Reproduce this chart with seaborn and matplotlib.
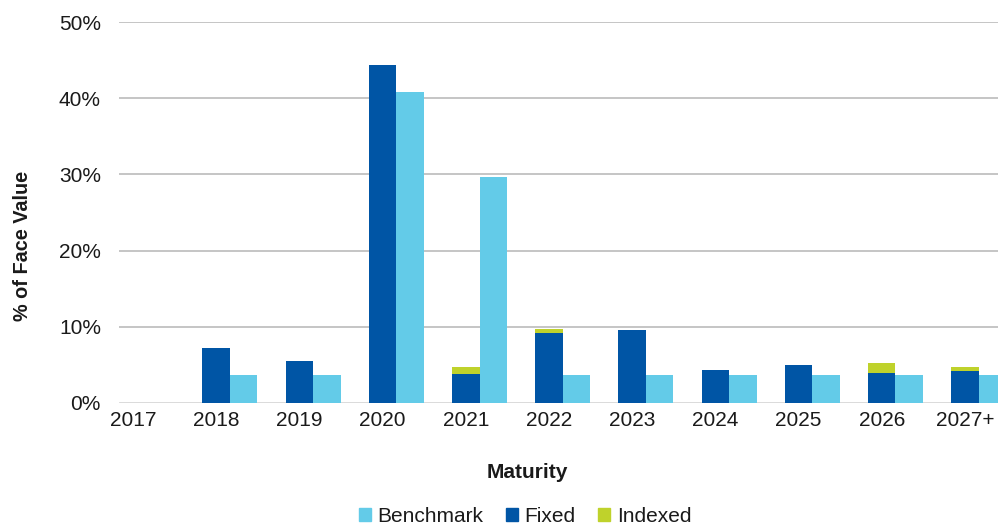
import numpy as np
import pandas as pd
import matplotlib
matplotlib.use("Agg")
import matplotlib.pyplot as plt
from matplotlib.patches import Patch
import seaborn as sns

categories = ['2017', '2018', '2019', '2020', '2021', '2022', '2023', '2024', '2025', '2026', '2027+']
fixed = [0, 7.2, 5.5, 44.3, 3.8, 9.2, 9.6, 4.3, 5.0, 4.0, 4.2]
indexed = [0, 0, 0, 0, 0.9, 0.5, 0, 0, 0, 1.2, 0.55]
benchmark = [0, 3.7, 3.7, 40.8, 29.6, 3.7, 3.7, 3.7, 3.7, 3.7, 3.7]
y_ticks = [0, 10, 20, 30, 40, 50]

C_FIX = '#0055A5'
C_BEN = '#63CBE8'
C_IDX = '#BFD22B'
GRID = '#C0C0C0'
TXT = '#1a1a1a'
FS = 15

sns.set_theme(style='white')
plt.rcParams['font.family'] = ['Liberation Sans', 'DejaVu Sans']

df = pd.DataFrame({'pos': np.arange(len(categories)), 'Fixed': fixed,
                   'Indexed': indexed, 'Benchmark': benchmark})
df['Total'] = df['Fixed'] + df['Indexed']
BW = 0.33

fig = plt.figure(figsize=(9.98, 5.27), dpi=100)
ax = fig.add_axes([119/998, 1-403/527, 1-119/998, (403-22)/527])

sns.barplot(x=df['pos'], y=df['Total'], native_scale=True, width=BW, color=C_IDX,
            saturation=1, linewidth=0, ax=ax, zorder=3)
sns.barplot(x=df['pos'], y=df['Fixed'], native_scale=True, width=BW, color=C_FIX,
            saturation=1, linewidth=0, ax=ax, zorder=3)
sns.barplot(x=df['pos'] + BW, y=df['Benchmark'], native_scale=True, width=BW, color=C_BEN,
            saturation=1, linewidth=0, ax=ax, zorder=3)

ax.set_xlim(-0.168, 10.397)
ax.set_ylim(0, 50)
ax.set_xticks(df['pos'])
ax.set_xticklabels(categories)
ax.set_yticks(y_ticks)
ax.set_yticklabels([f'{v}%' for v in y_ticks])
ax.tick_params(axis='both', length=0, labelsize=FS, colors=TXT)
ax.tick_params(axis='y', pad=13)
ax.tick_params(axis='x', pad=6)
for v in y_ticks:
    ax.axhline(v, color=GRID if v else '#D0D0D0', lw=1.3 if v else 1.8, zorder=1)
for s in ax.spines.values():
    s.set_visible(False)
ax.set_xlabel('')
ax.set_ylabel('% of Face Value', fontsize=14.3, fontweight='bold', color=TXT)
ax.yaxis.set_label_coords(-0.099, 0.413)

fig.text(527/998, 1-472/527, 'Maturity', ha='center', va='center',
         fontsize=FS, fontweight='bold', color=TXT)

handles = [Patch(color=C_BEN, label='Benchmark'), Patch(color=C_FIX, label='Fixed'),
           Patch(color=C_IDX, label='Indexed')]
fig.legend(handles=handles, loc='center', bbox_to_anchor=(525/998, 1-516/527), ncol=3,
           frameon=False, fontsize=FS, handlelength=0.6, handleheight=0.6,
           handletextpad=0.3, columnspacing=1.07, labelcolor=TXT)

fig.savefig('out.png', dpi=100)
